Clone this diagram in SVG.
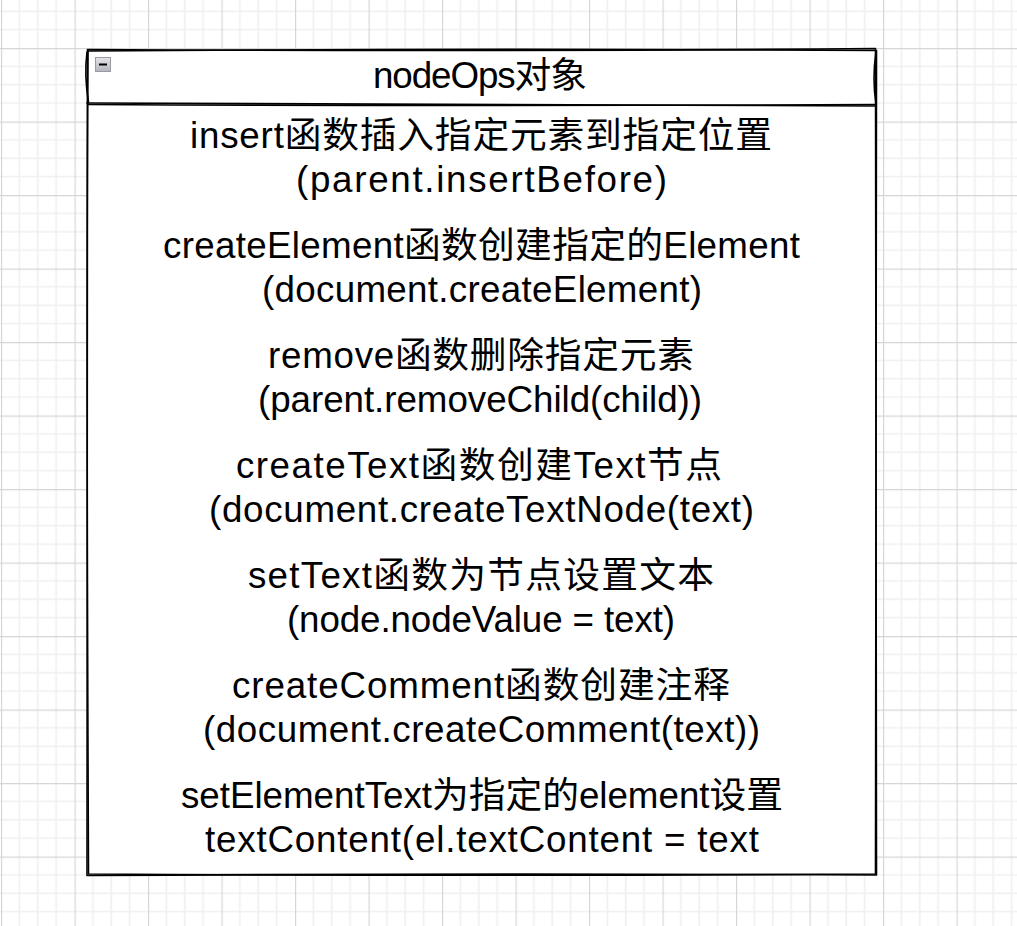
<svg xmlns="http://www.w3.org/2000/svg" width="1017" height="926" viewBox="0 0 1017 926">
  <defs>
    <pattern id="grid" patternUnits="userSpaceOnUse" x="1" y="48" width="73.5" height="73.5">
      <rect width="73.5" height="73.5" fill="#ffffff"/>
      <g stroke="#f0f0f0" stroke-width="1.6">
        <line x1="18.375" y1="0" x2="18.375" y2="73.5"/>
        <line x1="36.75" y1="0" x2="36.75" y2="73.5"/>
        <line x1="55.125" y1="0" x2="55.125" y2="73.5"/>
        <line x1="0" y1="18.375" x2="73.5" y2="18.375"/>
        <line x1="0" y1="36.75" x2="73.5" y2="36.75"/>
        <line x1="0" y1="55.125" x2="73.5" y2="55.125"/>
      </g>
      <g stroke="#d6d6d6" stroke-width="1.3">
        <line x1="0.5" y1="0" x2="0.5" y2="73.5"/>
        <line x1="0" y1="0.5" x2="73.5" y2="0.5"/>
      </g>
    </pattern>
    <linearGradient id="btn" x1="0" y1="0" x2="0" y2="1">
      <stop offset="0" stop-color="#e4e4ea"/>
      <stop offset="1" stop-color="#b4b4bc"/>
    </linearGradient>
  </defs>
  <style>
    .sk { fill: none; stroke: #000; stroke-width: 1.6; stroke-linecap: round; stroke-linejoin: round; }
    .t { font-family: "Liberation Sans", "Noto Sans CJK SC", sans-serif; font-size: 36.75px; fill: #000; text-anchor: middle; }
  </style>
  <rect width="1017" height="926" fill="url(#grid)"/>

  <g id="nodeOps">
    <rect x="87.5" y="50" width="788" height="825" fill="#ffffff"/>
    <path class="sk" d="M87.5 49.5 Q480 52 875.5 48.5 Q877.5 460 876.5 875 Q480 873 87 875.5 Q88.5 460 87.5 49.5 Z"/>
    <path class="sk" d="M88.5 51 Q480 48 876.5 50.5 Q874.5 460 875.5 874 Q480 876.5 88.5 874 Q86 300 88 51"/>
    <path class="sk" d="M87 52 Q84 75 88.5 102"/>
    <path class="sk" d="M876 52 Q872 78 876 104"/>
    <path class="sk" d="M87 103 Q480 104 876 106"/>
    <path class="sk" d="M88 104.5 Q480 106.5 875 104.5"/>
    <g id="collapse">
      <rect x="95.5" y="57.5" width="15" height="14" fill="url(#btn)" stroke="#9a9aa2" stroke-width="1"/>
      <line x1="99" y1="64.5" x2="107" y2="64.5" stroke="#000" stroke-width="2"/>
    </g>
    <text class="t" x="480" y="88" textLength="214" lengthAdjust="spacing">nodeOps对象</text>
  </g>

  <g id="items">
    <text class="t" x="481" y="148" textLength="582" lengthAdjust="spacing">insert函数插入指定元素到指定位置</text>
    <text class="t" x="481.5" y="192" textLength="371" lengthAdjust="spacing">(parent.insertBefore)</text>
    <text class="t" x="481.5" y="258" textLength="637" lengthAdjust="spacing">createElement函数创建指定的Element</text>
    <text class="t" x="482" y="302" textLength="440" lengthAdjust="spacing">(document.createElement)</text>
    <text class="t" x="481" y="368" textLength="426" lengthAdjust="spacing">remove函数删除指定元素</text>
    <text class="t" x="480" y="412" textLength="444" lengthAdjust="spacing">(parent.removeChild(child))</text>
    <text class="t" x="479" y="478" textLength="486" lengthAdjust="spacing">createText函数创建Text节点</text>
    <text class="t" x="481.5" y="522" textLength="545" lengthAdjust="spacing">(document.createTextNode(text)</text>
    <text class="t" x="481" y="588" textLength="466" lengthAdjust="spacing">setText函数为节点设置文本</text>
    <text class="t" x="481" y="632" textLength="388" lengthAdjust="spacing">(node.nodeValue = text)</text>
    <text class="t" x="481" y="698" textLength="498" lengthAdjust="spacing">createComment函数创建注释</text>
    <text class="t" x="481.5" y="742" textLength="557" lengthAdjust="spacing">(document.createComment(text))</text>
    <text class="t" x="482" y="808" textLength="602" lengthAdjust="spacing">setElementText为指定的element设置</text>
    <text class="t" x="482" y="852" textLength="554" lengthAdjust="spacing">textContent(el.textContent = text</text>
  </g>
</svg>
